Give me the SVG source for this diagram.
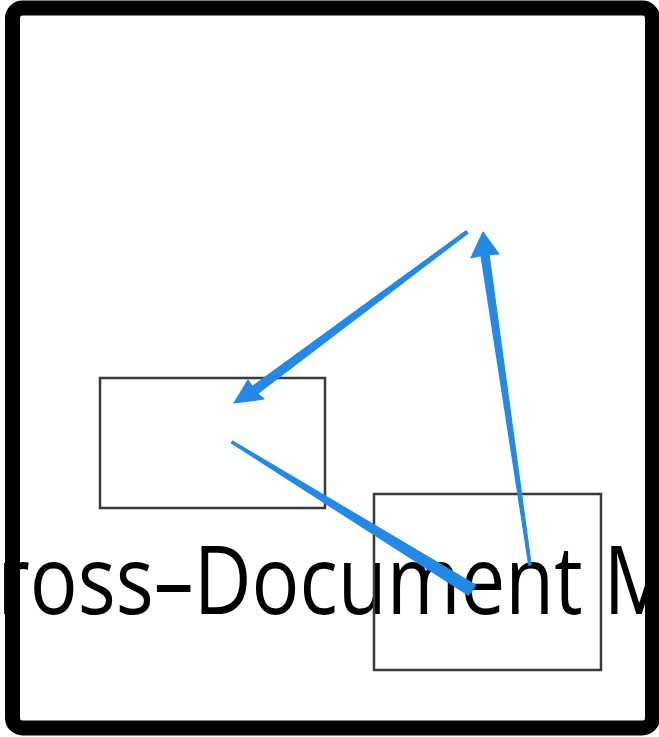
<svg xmlns="http://www.w3.org/2000/svg" width="659" height="737" viewBox="0 0 659 737">
<style>
.frame{fill:#fff;stroke:#000;stroke-width:15}
.box{fill:none;stroke:#3a3a3a;stroke-width:2.5}
.conn{fill:#2389e8;stroke:#2389e8;stroke-width:1.2;stroke-linejoin:round}
.title{font-family:"Open Sans","DejaVu Sans",sans-serif;font-size:96px;fill:#000}
</style>
<rect class="frame" x="12.5" y="8" width="640" height="720" rx="10"/>
<text class="title" x="-53" y="614" textLength="1049" lengthAdjust="spacingAndGlyphs">Cross–Document Messaging</text>
<g id="node-a"><rect class="box" x="100" y="378" width="225" height="130"/></g>
<g id="node-b"><rect class="box" x="374" y="494" width="227" height="176"/></g>
<g id="connectors">
<polygon class="conn" points="467.9,233.2 466.1,230.8 252.3,386.4 248,380 234,403 264,399 257.7,393.6"/>
<polygon class="conn" points="531.2,564.9 528.8,565.1 481,255.6 471,258 483,232 499,254 489,254.4"/>
<polygon class="conn" points="231.4,443 232.6,441 475.5,585 472.5,590 468.5,595.2"/>
</g>
</svg>
